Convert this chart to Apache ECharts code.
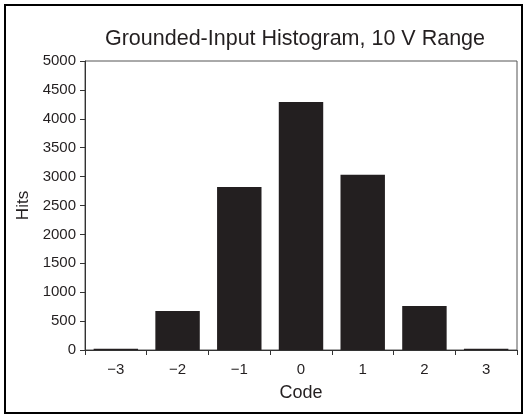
<!DOCTYPE html>
<html>
<head>
<meta charset="utf-8">
<script src="https://cdn.jsdelivr.net/npm/echarts@6/dist/echarts.min.js"></script>
<style>
  html, body { margin: 0; padding: 0; background: #fff; }
  #main { width: 527px; height: 418px; }
</style>
</head>
<body>
<div id="main"></div>
<script>
const codes = ['\u22123', '\u22122', '\u22121', '0', '1', '2', '3'];
const hits = [20, 675, 2820, 4290, 3030, 760, 20];
const yTicks = { min: 0, max: 5000, interval: 500 };

const myChart = echarts.init(document.querySelector('#main'));
const ink = '#231f20';
const font = 'Liberation Sans, Arial, sans-serif';

let option = {
  animation: false,
  title: {
    text: 'Grounded-Input Histogram, 10 V Range',
    left: 290,
    textAlign: 'center',
    top: 23,
    textStyle: { fontFamily: font, fontSize: 21.5, fontWeight: 'normal', color: ink }
  },
  graphic: [
    {
      type: 'rect',
      shape: { x: 5, y: 5, width: 517, height: 408 },
      style: { fill: 'none', stroke: '#000', lineWidth: 2 },
      silent: true
    }
  ],
  grid: {
    left: 85,
    right: 10,
    top: 61,
    bottom: 68,
    show: true,
    borderColor: '#555',
    borderWidth: 1
  },
  xAxis: {
    type: 'category',
    data: codes,
    name: 'Code',
    nameLocation: 'middle',
    nameGap: 34,
    nameTextStyle: { fontFamily: font, fontSize: 18, color: ink },
    axisLine: { lineStyle: { color: '#333', width: 1 } },
    axisTick: { show: true, length: 5, lineStyle: { color: '#333' } },
    axisLabel: { fontFamily: font, fontSize: 15, color: ink, margin: 12 }
  },
  yAxis: {
    type: 'value',
    min: yTicks.min,
    max: yTicks.max,
    interval: yTicks.interval,
    name: 'Hits',
    nameLocation: 'middle',
    nameGap: 48,
    nameTextStyle: { fontFamily: font, fontSize: 17, color: ink },
    axisLine: { show: true, lineStyle: { color: '#333', width: 1 } },
    axisTick: { show: true, length: 5, lineStyle: { color: '#333' } },
    axisLabel: { fontFamily: font, fontSize: 15, color: ink, margin: 9, formatter: v => String(v) },
    splitLine: { show: false }
  },
  series: [
    {
      type: 'bar',
      data: hits,
      barCategoryGap: '28%',
      itemStyle: { color: ink }
    }
  ]
};

option && myChart.setOption(option);
</script>
</body>
</html>
